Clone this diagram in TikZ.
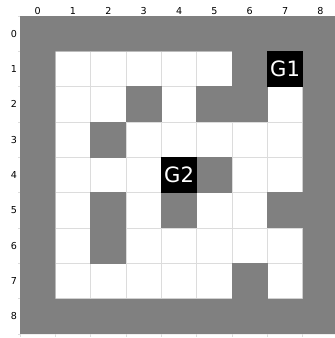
\documentclass[tikz,border=0pt]{standalone}
\usepackage{fontspec}
\setmainfont{DejaVu Sans}
\definecolor{wallgray}{HTML}{808080}
\definecolor{gridgray}{HTML}{DCDCDC}
\begin{document}
\begin{tikzpicture}[x=1cm, y=-1cm,
    wall/.style={fill=wallgray},
    goal/.style={fill=black, text=white, minimum size=1cm, inner sep=0pt, font=\fontsize{17}{17}\selectfont},
    ticklabel/.style={inner sep=0pt, font=\fontsize{7.7}{8}\selectfont}]

    \useasboundingbox (-0.566,-0.453) rectangle (8.883,9.109);

    % free cells + grid
    \fill[white] (1,1) rectangle (8,8);
    \draw[gridgray, line width=0.6pt] (1,1) grid (8,8);

    % outer wall
    \fill[wall, even odd rule] (0,0) rectangle (9,9) (1,1) rectangle (8,8);

    % inner walls
    \foreach \r/\c in {1/6, 2/3, 2/5, 2/6, 3/2, 4/5, 5/2, 5/4, 5/7, 6/2, 7/6}
        \fill[wall] (\c-0.01,\r-0.01) rectangle (\c+1.01,\r+1.01);

    % goals
    \node[goal] (G1) at (7.5,1.5) {G1};
    \node[goal] (G2) at (4.5,4.5) {G2};

    % axes
    \foreach \i in {0,...,8} {
        \node[ticklabel, anchor=base] (xtick\i) at (\i+0.5,-0.03) {\i};
        \node[ticklabel, anchor=east] (ytick\i) at (-0.076,\i+0.5) {\i};
    }
    \foreach \i in {0,...,9} {
        \draw[gridgray, line width=0.6pt] (\i,9) -- (\i,9.07);
        \draw[gridgray, line width=0.6pt] (0,\i) -- (-0.06,\i);
    }

\end{tikzpicture}
\end{document}
